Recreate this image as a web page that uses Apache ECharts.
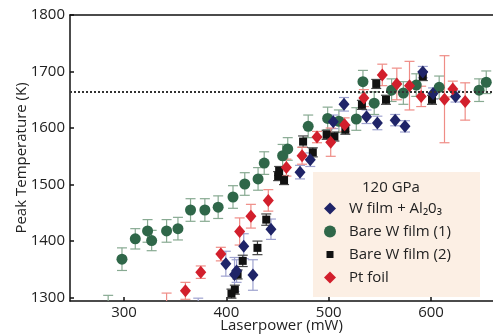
<!DOCTYPE html>
<html>
<head>
<meta charset="utf-8">
<script src="https://cdn.jsdelivr.net/npm/echarts@6/dist/echarts.min.js"></script>
<style>html,body{margin:0;padding:0;background:#fff}#c{width:493px;height:335px}</style>
</head>
<body>
<div id="c"></div>
<script>
// ---- data: [laser power (mW), peak temperature (K), error (K)] ----
const wFilmAl2O3 = [
  [372.5,1285,14],[399.5,1360,22],[408,1341,30],[410,1347,20],[417,1391,22],[426,1340,27],
  [443.6,1421,18],[472,1522,12],[482,1544,12],[504.5,1611,12],[515,1642,12],[537,1620,12],
  [547.6,1609,12],[565,1614,10],[574.6,1603,10],[592,1699,10],[602,1661,10],[624,1656,10]
];
const bareW1 = [
  [284.5,1284,20],[298,1368,20],[311,1404,18],[323,1418,20],[327,1401,18],[341.6,1418,20],
  [352.7,1422,20],[365,1455,20],[379,1455,20],[392,1460,20],[406.5,1478,20],[418,1501,20],
  [431,1510,20],[437,1538,20],[455,1551,20],[460,1563,20],[480,1603,20],[499,1617,20],
  [510,1612,20],[527,1616,20],[533.5,1682,20],[544.5,1644,20],[561.5,1667,20],[573,1662,20],
  [585.6,1676,20],[608,1672,20],[647,1667,20],[654,1681,20]
];
const bareW2 = [
  [405,1307,8],[408.3,1314,8],[411,1341,8],[416,1365,10],[430.4,1388,12],[439,1438,10],
  [450.6,1515,8],[451.6,1524,8],[456.4,1508,8],[475,1576,10],[484.5,1557,8],[498,1588,8],
  [505.6,1585,8],[516.3,1597,8],[532.5,1641,8],[546.5,1678,8],[556,1650,8],[592,1692,8],[601,1650,8]
];
const ptFoil = [
  [341.6,1285,23],[360,1312,15],[375,1345,11],[394.6,1377,12],[413,1417,24],[424,1444,21],
  [441,1472,19],[458.7,1530,15],[474,1551,15],[488.6,1584,10],[502,1575,25],[515.6,1606,12],
  [534.4,1653,15],[552.4,1694,19],[566.6,1678,28],[579,1675,43],[590.4,1656,18],[613.2,1651,77],
  [621.3,1669,14],[633.4,1647,33]
];
const meltTemperature = 1664;
const yTicks = [1300,1400,1500,1600,1700,1800];
const xTicks = [300,400,500,600];
const legendTitle = '120 GPa';
const seriesNames = ['W film + Al\u20820\u2083','Bare W film (1)','Bare W film (2)','Pt foil'];

const FONT = '"Open Sans", "Noto Sans", sans-serif';

function errRender(color){
  return function(params, api){
    const x = api.value(0), y = api.value(1), e = api.value(2);
    const t = api.coord([x, y + e]), b = api.coord([x, y - e]);
    const hw = 5;
    const st = {stroke: color, lineWidth: 1.2};
    return {type:'group', children:[
      {type:'line', shape:{x1:t[0], y1:t[1], x2:b[0], y2:b[1]}, style:st},
      {type:'line', shape:{x1:t[0]-hw, y1:t[1], x2:t[0]+hw, y2:t[1]}, style:st},
      {type:'line', shape:{x1:b[0]-hw, y1:b[1], x2:b[0]+hw, y2:b[1]}, style:st}
    ]};
  };
}
function errSeries(name, data, color){
  return {type:'custom', name: name, data: data, clip: true, silent: true, z: 2,
    encode:{x:0, y:1}, renderItem: errRender(color)};
}
function markSeries(name, data, symbol, size, color, extra){
  return Object.assign({type:'scatter', name: name, data: data.map(d => [d[0], d[1]]),
    symbol: symbol, symbolSize: size, itemStyle:{color: color, opacity: 1}, z: 3,
    emphasis:{disabled:true}}, extra || {});
}

const cfg = {
  w: {sym:'diamond', size:[11,13], c:'#1f2468', e:'#9ea2cf'},
  g1:{sym:'circle', size:11, c:'#2f6749', e:'#88aa92'},
  g2:{sym:'square', size:8, c:'#111111', e:'#444444'},
  p: {sym:'diamond', size:[11,13], c:'#d21f2c', e:'#ef8c86'}
};

const chart = echarts.init(document.getElementById('c'), null, {renderer:'canvas'});
chart.setOption({
  animation: false,
  backgroundColor: '#ffffff',
  textStyle: {fontFamily: FONT},
  grid: {left: 70, top: 15, right: 0, bottom: 34, containLabel: false, outerBoundsMode: 'none'},
  graphic: [
    {type:'rect', left: 313, top: 172, z: 1, shape:{width: 167, height: 125}, style:{fill:'#fcefe4'}},
    {type:'text', left: 362, top: 180, z: 5, style:{text: legendTitle, font: '15px ' + FONT, fill:'#222'}}
  ],
  legend: {
    orient: 'vertical', left: 324, top: 201, itemWidth: 12, itemHeight: 12, itemGap: 8,
    padding: 0, selectedMode: false, z: 5,
    textStyle: {fontSize: 15, color: '#222', fontFamily: FONT, padding: [0,0,0,8]},
    data: [
      {name: seriesNames[0], icon: 'diamond'},
      {name: seriesNames[1], icon: 'circle'},
      {name: seriesNames[2], icon: 'path://M0,0M12,12M2.5,2.5h7v7h-7z'},
      {name: seriesNames[3], icon: 'diamond'}
    ]
  },
  xAxis: [{
    type: 'value', min: 247.2, max: 660.6, position: 'bottom',
    axisLine: {show: true, onZero: false, lineStyle: {color:'#111', width: 1.5}},
    axisTick: {show: true, inside: true, length: 4, customValues: xTicks, lineStyle:{color:'#111', width:1.5}},
    axisLabel: {show: true, customValues: xTicks, fontSize: 15, color: '#222', margin: 4, fontFamily: FONT,
      formatter: v => String(v)},
    splitLine: {show: false},
    name: 'Laserpower (mW)', nameLocation: 'middle', nameGap: 17, nameMoveOverlap: false,
    nameTextStyle: {fontSize: 15, color: '#222', fontFamily: FONT, verticalAlign: 'top'}
  }, {
    type: 'value', min: 247.2, max: 660.6, position: 'top',
    axisLine: {show: true, onZero: false, lineStyle: {color:'#111', width: 1.5}},
    axisTick: {show: false}, axisLabel: {show: false}, splitLine: {show: false}
  }],
  yAxis: {
    type: 'value', min: 1294, max: 1800,
    axisLine: {show: true, onZero: false, lineStyle: {color:'#111', width: 1.5}},
    axisTick: {show: true, inside: true, length: 4, customValues: yTicks, lineStyle:{color:'#111', width:1.5}},
    axisLabel: {show: true, customValues: yTicks, fontSize: 15, color: '#222', margin: 5, fontFamily: FONT,
      formatter: v => String(v)},
    splitLine: {show: false},
    name: 'Peak Temperature (K)', nameLocation: 'middle', nameGap: 41, nameRotate: 90, nameMoveOverlap: false,
    nameTextStyle: {fontSize: 15, color: '#222', fontFamily: FONT}
  },
  series: [
    errSeries('errG1', bareW1, cfg.g1.e),
    errSeries('errW', wFilmAl2O3, cfg.w.e),
    errSeries('errG2', bareW2, cfg.g2.e),
    errSeries('errP', ptFoil, cfg.p.e),
    markSeries(seriesNames[1], bareW1, cfg.g1.sym, cfg.g1.size, cfg.g1.c, {
      markLine: {silent: true, symbol: 'none', animation: false,
        label: {show: false},
        lineStyle: {type: [2,2], color: '#333', width: 1.8},
        data: [{yAxis: meltTemperature}]}
    }),
    markSeries(seriesNames[2], bareW2, cfg.g2.sym, cfg.g2.size, cfg.g2.c),
    markSeries(seriesNames[0], wFilmAl2O3, cfg.w.sym, cfg.w.size, cfg.w.c),
    markSeries(seriesNames[3], ptFoil, cfg.p.sym, cfg.p.size, cfg.p.c)
  ]
});
</script>
</body>
</html>
